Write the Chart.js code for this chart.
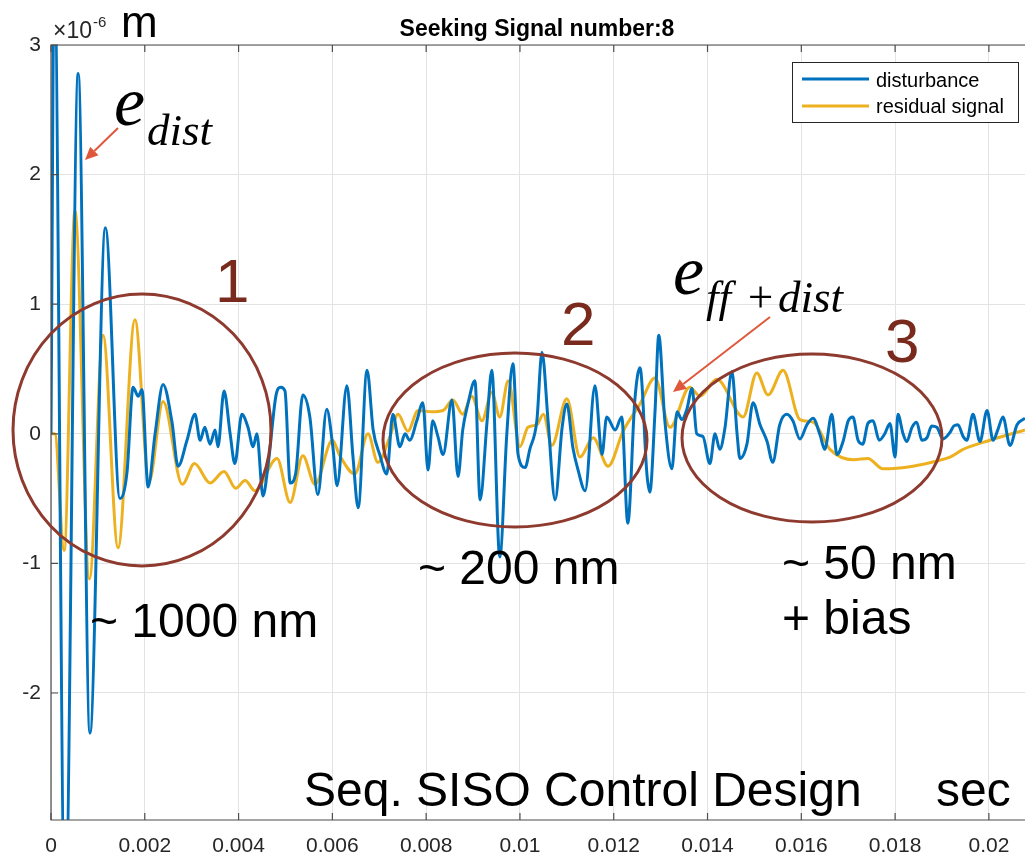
<!DOCTYPE html>
<html>
<head>
<meta charset="utf-8">
<script src="https://cdn.jsdelivr.net/npm/chart.js@4.4.1/dist/chart.umd.min.js"></script>
<style>
  html, body { margin: 0; padding: 0; background: #fff; }
  #wrap { width: 1025px; height: 858px; position: relative; }
</style>
</head>
<body>
<div id="wrap"><canvas id="chart"></canvas></div>
<script>
// time axis in seconds, values in 1e-6 m
const distT = [0, 0.00007, 0.0003, 0.00058, 0.00083, 0.00116, 0.00147, 0.00162, 0.00175, 0.00186,
  0.00194, 0.00207, 0.00222, 0.00239, 0.00258, 0.00271, 0.0029, 0.00307, 0.00318, 0.00328,
  0.00339, 0.0035, 0.00356, 0.00369, 0.00382, 0.00392, 0.00407, 0.0042, 0.00431, 0.00439,
  0.00452, 0.00463, 0.0048, 0.0049, 0.00499, 0.0051, 0.00522, 0.00537, 0.00552, 0.00569,
  0.00588, 0.00601, 0.0061, 0.00631, 0.00644, 0.00655, 0.00674, 0.00687, 0.00701, 0.00716,
  0.00729, 0.00744, 0.00755, 0.00765, 0.0078, 0.00793, 0.00804, 0.00814, 0.00825, 0.00836,
  0.00855, 0.00868, 0.00878, 0.00889, 0.00904, 0.00915, 0.0093, 0.0094, 0.00957, 0.00972,
  0.00985, 0.00996, 0.01011, 0.01021, 0.01036, 0.01047, 0.0106, 0.01075, 0.0109, 0.011,
  0.01113, 0.01124, 0.01139, 0.0116, 0.01175, 0.01185, 0.01203, 0.01217, 0.0123, 0.01245,
  0.01256, 0.01271, 0.01277, 0.01288, 0.01296, 0.01309, 0.01324, 0.01335, 0.01345, 0.01356,
  0.01367, 0.01377, 0.0139, 0.01405, 0.01416, 0.01426, 0.01437, 0.01452, 0.01463, 0.01469,
  0.01484, 0.01497, 0.01512, 0.01527, 0.01539, 0.01554, 0.01569, 0.01582, 0.01597, 0.01612,
  0.01625, 0.0164, 0.0165, 0.01665, 0.01676, 0.01689, 0.017, 0.0171, 0.01721, 0.01731,
  0.01742, 0.01753, 0.01766, 0.01778, 0.01789, 0.018, 0.01806, 0.01817, 0.01825, 0.01836,
  0.01846, 0.01857, 0.01868, 0.01878, 0.01889, 0.01902, 0.01917, 0.01925, 0.01934, 0.01945,
  0.01953, 0.01966, 0.01981, 0.01996, 0.02009, 0.02019, 0.0203, 0.02045, 0.0206, 0.02077];
const distV = [0, 3.6, -3.8, 2.78, -2.31, 1.59, -0.5, -0.3, 0.36, 0.29,
  0.34, -0.41, 0.0, 0.38, 0.09, -0.25, -0.05, 0.15, -0.05, 0.05,
  -0.08, 0.03, -0.1, 0.33, 0.0, -0.23, 0.15, 0.05, -0.1, 0.0,
  -0.48, -0.24, 0.3, 0.36, 0.33, -0.38, -0.3, 0.3, 0.13, -0.47,
  0.19, -0.1, -0.4, 0.37, -0.18, -0.57, 0.49, 0.03, -0.16, -0.31,
  0.15, -0.1, 0.0, -0.05, 0.1, 0.24, -0.28, 0.1, -0.02, -0.16,
  0.26, -0.33, 0.03, 0.23, 0.41, -0.51, 0.1, 0.49, -0.95, 0.0,
  0.54, -0.16, -0.26, -0.12, 0.1, 0.63, 0.1, -0.51, 0.05, 0.23,
  -0.11, -0.28, -0.44, 0.37, -0.16, 0.13, 0.03, 0.13, -0.69, 0.26,
  0.51, -0.32, -0.45, 0.17, 0.76, 0.1, -0.27, 0.17, 0.11, 0.19,
  0.35, 0.0, -0.02, -0.23, 0.0, -0.12, 0.04, 0.48, 0.0, -0.19,
  -0.08, 0.24, 0.07, -0.06, -0.22, 0.07, 0.15, 0.1, -0.04, 0.07,
  0.12, -0.01, -0.12, 0.15, -0.16, -0.06, 0.1, 0.13, -0.05, -0.08,
  0.08, 0.1, -0.05, 0.0, 0.08, -0.18, 0.15, 0.0, -0.06, 0.05,
  0.09, -0.05, -0.03, 0.06, 0.05, -0.04, 0.01, 0.06, 0.07, -0.02,
  -0.05, 0.15, -0.06, 0.18, -0.05, 0.03, 0.13, -0.09, 0.07, 0.12];

const residT = [0, 0.00008, 0.00028, 0.00051, 0.00082, 0.00111, 0.00143, 0.00179, 0.00209, 0.00239,
  0.0028, 0.00306, 0.00339, 0.00369, 0.00394, 0.00414, 0.00435, 0.00482, 0.0051, 0.00537,
  0.00563, 0.006, 0.00616, 0.00648, 0.00676, 0.00697, 0.00723, 0.0074, 0.00761, 0.00783,
  0.00812, 0.00836, 0.00857, 0.00878, 0.00897, 0.00919, 0.0094, 0.00957, 0.00975, 0.01,
  0.01017, 0.01036, 0.0105, 0.01068, 0.011, 0.01128, 0.01156, 0.01188, 0.0122, 0.01256,
  0.01288, 0.0132, 0.01362, 0.01384, 0.0142, 0.01476, 0.01505, 0.01529, 0.01561, 0.01597,
  0.01625, 0.01661, 0.01712, 0.01742, 0.01774, 0.01838, 0.01889, 0.01917, 0.01945, 0.02002,
  0.02077];
const residV = [0, 0, -0.9, 1.72, -1.12, 0.76, -0.88, 0.88, -0.37, 0.25,
  -0.39, -0.23, -0.38, -0.29, -0.42, -0.36, -0.44, -0.19, -0.53, -0.17,
  -0.39, -0.05, -0.17, -0.31, 0.0, -0.22, -0.02, 0.15, 0.02, 0.18,
  0.17, 0.18, 0.26, 0.15, 0.29, 0.1, 0.32, 0.13, 0.41, -0.1,
  0.05, 0.07, 0.15, -0.09, 0.27, -0.18, -0.03, -0.25, 0.02, 0.23,
  0.43, 0.05, 0.36, 0.29, 0.42, 0.13, 0.47, 0.3, 0.49, 0.11,
  0.09, -0.12, -0.2, -0.19, -0.27, -0.25, -0.21, -0.18, -0.12, -0.05,
  0.03];

const xTicks = [0, 0.002, 0.004, 0.006, 0.008, 0.01, 0.012, 0.014, 0.016, 0.018, 0.02];
const yTicks = [-2, -1, 0, 1, 2, 3];

const BLUE = '#0072BD';
const ORANGE = '#EDB120';
const BROWN = '#8e3a2e';
const NUM_BROWN = '#7a2a1c';
const ARROW = '#e0583b';
const AXIS = '#4d4d4d';
const SANS = '"Liberation Sans", Helvetica, Arial, sans-serif';
const SERIF = '"Liberation Serif", "Times New Roman", serif';

function arrow(ctx, x1, y1, x2, y2) {
  const ang = Math.atan2(y2 - y1, x2 - x1);
  const len = 13, w = 6;
  const bx = x2 - len * Math.cos(ang), by = y2 - len * Math.sin(ang);
  ctx.save();
  ctx.strokeStyle = ARROW;
  ctx.fillStyle = ARROW;
  ctx.lineWidth = 2;
  ctx.beginPath();
  ctx.moveTo(x1, y1);
  ctx.lineTo(bx, by);
  ctx.stroke();
  ctx.beginPath();
  ctx.moveTo(x2, y2);
  ctx.lineTo(bx + w * Math.sin(ang), by - w * Math.cos(ang));
  ctx.lineTo(bx - w * Math.sin(ang), by + w * Math.cos(ang));
  ctx.closePath();
  ctx.fill();
  ctx.restore();
}

// box, tick marks, title, legend and the hand annotations
const overlay = {
  id: 'overlay',
  afterDraw(chart) {
    const ctx = chart.ctx;
    const a = chart.chartArea;
    const xs = chart.scales.x, ys = chart.scales.y;
    ctx.save();

    // axes box
    ctx.strokeStyle = AXIS;
    ctx.lineWidth = 1.2;
    ctx.beginPath();
    ctx.moveTo(a.right, a.top); ctx.lineTo(a.left, a.top);
    ctx.lineTo(a.left, a.bottom); ctx.lineTo(a.right, a.bottom);
    ctx.stroke();
    ctx.beginPath();
    xTicks.forEach(v => {
      const px = xs.getPixelForValue(v);
      ctx.moveTo(px, a.bottom); ctx.lineTo(px, a.bottom - 7);
      ctx.moveTo(px, a.top); ctx.lineTo(px, a.top + 7);
    });
    yTicks.forEach(v => {
      const py = ys.getPixelForValue(v);
      ctx.moveTo(a.left, py); ctx.lineTo(a.left + 7, py);
    });
    ctx.stroke();

    // title
    ctx.fillStyle = '#000';
    ctx.font = 'bold 23px ' + SANS;
    ctx.textAlign = 'center';
    ctx.textBaseline = 'alphabetic';
    ctx.fillText('Seeking Signal number:8', 537, 36);

    // exponent + unit
    ctx.textAlign = 'left';
    ctx.fillStyle = '#262626';
    ctx.font = '23px ' + SANS;
    ctx.fillText('\u00d710', 53, 38);
    const ew = ctx.measureText('\u00d710').width;
    ctx.font = '15px ' + SANS;
    ctx.fillText('-6', 53 + ew + 1, 27);
    ctx.fillStyle = '#000';
    ctx.font = '44px ' + SANS;
    ctx.fillText('m', 121, 37);

    // legend
    ctx.fillStyle = '#fff';
    ctx.fillRect(792, 62, 226, 60);
    ctx.strokeStyle = '#262626';
    ctx.lineWidth = 1;
    ctx.strokeRect(792.5, 62.5, 226, 60);
    ctx.lineWidth = 3;
    ctx.strokeStyle = BLUE;
    ctx.beginPath(); ctx.moveTo(802, 79); ctx.lineTo(869, 79); ctx.stroke();
    ctx.strokeStyle = ORANGE;
    ctx.beginPath(); ctx.moveTo(802, 106); ctx.lineTo(869, 106); ctx.stroke();
    ctx.fillStyle = '#000';
    ctx.font = '20px ' + SANS;
    ctx.textBaseline = 'middle';
    ctx.fillText('disturbance', 876, 81);
    ctx.fillText('residual signal', 876, 107);
    ctx.textBaseline = 'alphabetic';

    // ellipses
    ctx.strokeStyle = BROWN;
    ctx.lineWidth = 3;
    [[142, 430, 129, 136], [515, 440, 132, 87], [812, 438, 130, 84]].forEach(e => {
      ctx.beginPath();
      ctx.ellipse(e[0], e[1], e[2], e[3], 0, 0, Math.PI * 2);
      ctx.stroke();
    });

    // region numbers
    ctx.fillStyle = NUM_BROWN;
    ctx.font = '62px ' + SANS;
    ctx.fillText('1', 215, 302);
    ctx.fillText('2', 561, 345);
    ctx.fillText('3', 885, 362);

    // big labels
    ctx.fillStyle = '#000';
    ctx.font = '48px ' + SANS;
    ctx.fillText('~ 1000 nm', 90, 637);
    ctx.fillText('~ 200 nm', 418, 584);
    ctx.fillText('~ 50 nm', 782, 579);
    ctx.fillText('+ bias', 782, 634);
    ctx.fillText('Seq. SISO Control Design', 304, 806);
    ctx.fillText('sec', 936, 806);

    // e_dist
    ctx.fillStyle = '#000';
    ctx.font = 'italic 70px ' + SERIF;
    ctx.fillText('e', 114, 125);
    ctx.font = 'italic 45px ' + SERIF;
    ctx.fillText('dist', 147, 145);
    arrow(ctx, 118, 128, 85, 160);

    // e_ff+dist
    ctx.fillStyle = '#000';
    ctx.font = 'italic 70px ' + SERIF;
    ctx.fillText('e', 673, 294);
    ctx.font = 'italic 45px ' + SERIF;
    ctx.fillText('ff', 706, 312);
    ctx.fillText('+', 745, 312);
    ctx.fillText('dist', 778, 312);
    arrow(ctx, 770, 317, 673, 392);

    ctx.restore();
  }
};

const toPts = (ts, vs) => ts.map((t, i) => ({ x: t, y: vs[i] }));

new Chart(document.getElementById('chart'), {
  type: 'line',
  data: {
    datasets: [
      { label: 'disturbance', data: toPts(distT, distV), borderColor: BLUE, borderWidth: 3,
        pointRadius: 0, cubicInterpolationMode: 'monotone', fill: false },
      { label: 'residual signal', data: toPts(residT, residV), borderColor: ORANGE, borderWidth: 3,
        pointRadius: 0, cubicInterpolationMode: 'monotone', fill: false }
    ]
  },
  options: {
    responsive: true,
    maintainAspectRatio: false,
    animation: false,
    parsing: false,
    layout: { padding: { top: 45, left: 0, right: 0, bottom: 0 } },
    plugins: { legend: { display: false }, title: { display: false }, tooltip: { enabled: false } },
    scales: {
      x: {
        type: 'linear', min: 0, max: 0.02077,
        afterBuildTicks: s => { s.ticks = xTicks.map(v => ({ value: v })); },
        afterFit: s => { s.height = 38; },
        grid: { color: '#e3e3e3', drawTicks: false },
        border: { display: false },
        ticks: {
          color: '#262626', padding: 14, maxRotation: 0,
          font: { family: SANS, size: 21 },
          callback: v => String(Number(v.toFixed(3)))
        }
      },
      y: {
        type: 'linear', min: -2.98, max: 3,
        afterBuildTicks: s => { s.ticks = yTicks.map(v => ({ value: v })); },
        afterFit: s => { s.width = 51; },
        grid: { color: '#e3e3e3', drawTicks: false },
        border: { display: false },
        ticks: { color: '#262626', padding: 10, font: { family: SANS, size: 21 } }
      }
    }
  },
  plugins: [overlay]
});
</script>
</body>
</html>
